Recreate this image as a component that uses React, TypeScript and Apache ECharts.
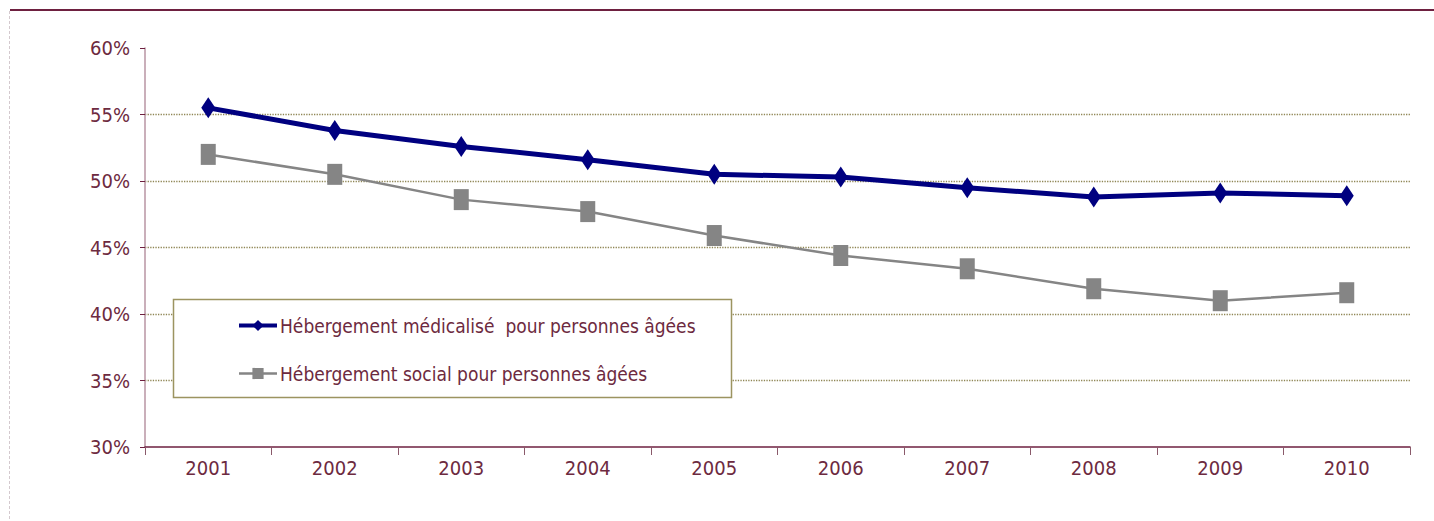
import React, { useEffect, useRef } from "react";
import * as echarts from "echarts";

const years = ["2001", "2002", "2003", "2004", "2005", "2006", "2007", "2008", "2009", "2010"];
const medicalise = [55.5, 53.8, 52.6, 51.6, 50.5, 50.3, 49.5, 48.8, 49.1, 48.9];
const social = [52.0, 50.5, 48.6, 47.7, 45.9, 44.4, 43.4, 41.9, 41.0, 41.6];
const seriesNames = [
  "Hébergement médicalisé  pour personnes âgées",
  "Hébergement social pour personnes âgées",
];

const FONT = "'Liberation Sans Narrow', 'Arial Narrow', 'DejaVu Sans Condensed', sans-serif";
const TEXT = "#6d2a40";

export default function App() {
  const ref = useRef<HTMLDivElement>(null);
  useEffect(() => {
    document.body.style.margin = "0";
    const chart = echarts.init(ref.current!, null, { renderer: "svg" });
    chart.setOption({
      animation: false,
      backgroundColor: "#ffffff",
      grid: { left: 145, right: 24, top: 48, bottom: 74 },
      xAxis: {
        type: "category",
        data: years,
        boundaryGap: true,
        axisLine: { lineStyle: { color: "#6e2040", width: 1.5 } },
        axisTick: { show: true, length: 8, lineStyle: { color: "#8a5a6a" } },
        axisLabel: { color: TEXT, fontFamily: FONT, fontSize: 20, margin: 11 },
      },
      yAxis: {
        type: "value",
        min: 30,
        max: 60,
        interval: 5,
        axisLine: { show: true, lineStyle: { color: "#b994a3", width: 1.5 } },
        axisTick: { show: true, length: 5, lineStyle: { color: "#6e2040" } },
        axisLabel: {
          color: TEXT,
          fontFamily: FONT,
          fontSize: 20,
          margin: 15,
          formatter: "{value}%",
        },
        splitLine: {
          show: true,
          showMinLine: false,
          showMaxLine: false,
          lineStyle: { color: "#8f8655", type: "dotted", width: 1.3 },
        },
      },
      legend: {
        orient: "vertical",
        left: 237,
        top: 316,
        padding: 0,
        itemWidth: 38,
        itemHeight: 14,
        itemGap: 29,
        z: 10,
        textStyle: { color: TEXT, fontFamily: FONT, fontSize: 19, padding: [0, 0, 0, -2] },
        data: [
          { name: seriesNames[0], lineStyle: { width: 4 } },
          { name: seriesNames[1], lineStyle: { width: 2.5 } },
        ],
      },
      graphic: [
        {
          type: "line",
          shape: { x1: 10, y1: 10, x2: 1434, y2: 10 },
          style: { stroke: "#6e2040", lineWidth: 2 },
          z: 0,
        },
        {
          type: "line",
          shape: { x1: 9.5, y1: 11, x2: 9.5, y2: 521 },
          style: { stroke: "#d4c9ce", lineWidth: 1, lineDash: [3, 2] },
          z: 0,
        },
        {
          type: "rect",
          shape: { x: 173.5, y: 299.5, width: 558, height: 98 },
          style: { fill: "#ffffff", stroke: "#9c9460", lineWidth: 1.5 },
          z: 5,
        },
      ],
      series: [
        {
          name: seriesNames[0],
          type: "line",
          data: medicalise,
          symbol: "diamond",
          symbolSize: [14, 21],
          lineStyle: { color: "#000080", width: 5 },
          itemStyle: { color: "#000080" },
          z: 3,
        },
        {
          name: seriesNames[1],
          type: "line",
          data: social,
          symbol: "rect",
          symbolSize: [15, 21],
          lineStyle: { color: "#858585", width: 2.5 },
          itemStyle: { color: "#858585" },
          z: 2,
        },
      ],
    });
    return () => chart.dispose();
  }, []);
  return <div ref={ref} style={{ width: 1434, height: 521 }} />;
}
